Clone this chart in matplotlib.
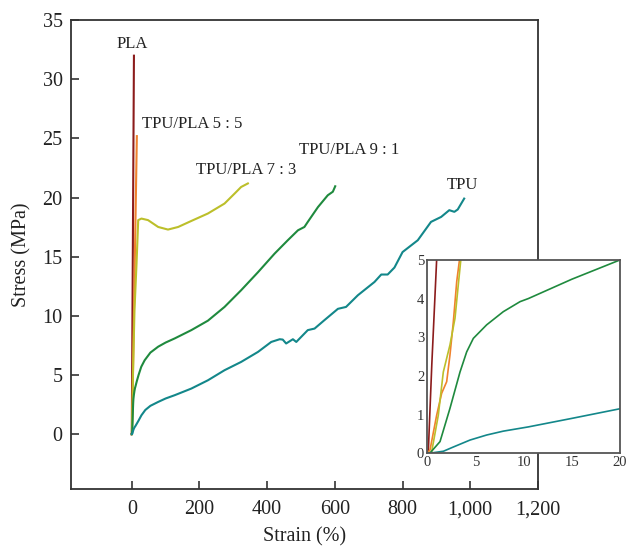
import numpy as np
import matplotlib.pyplot as plt

plt.rcParams['font.family'] = ['Liberation Serif', 'DejaVu Serif']

# strain (%) / stress (MPa)
pla_x = [0, 0.13, 0.5, 1.0, 3.0, 6.4]
pla_y = [0, 0.0, 2.3, 5.0, 15.0, 32.0]

tp55_x = [0, 0.31, 1.0, 1.52, 2.04, 2.38, 2.73, 3.08, 3.35, 6, 10, 15]
tp55_y = [0, 0.08, 0.98, 1.55, 1.85, 2.54, 3.4, 4.44, 4.97, 9.5, 16.5, 25.2]

tp73_x = [0, 0.48, 1.17, 1.69, 2.38, 2.9, 3.24, 3.49, 8, 14, 19, 28.5, 48, 78, 107, 137, 176, 225, 274, 304, 323, 343]
tp73_y = [0, 0.03, 0.98, 2.1, 2.8, 3.49, 4.35, 4.97, 10.5, 14.4, 18.1, 18.23, 18.1, 17.52, 17.3, 17.52, 18.03, 18.66, 19.5, 20.35, 20.9, 21.2]

tp91_x = [0, 0.3, 1.35, 2.38, 3.42, 4.11, 4.8, 6.18, 7.9, 9.64, 10.5, 15, 20, 28, 38, 55, 78, 100, 127, 176, 225, 274, 323, 373,
          422, 461, 491, 510, 520, 550, 579, 594, 601]
tp91_y = [0, 0.0, 0.3, 1.16, 2.1, 2.62, 2.97, 3.32, 3.66, 3.92, 4.0, 4.5, 5.0, 5.7, 6.25, 6.9, 7.4, 7.75, 8.1, 8.8, 9.6, 10.76, 12.17, 13.7,
          15.27, 16.4, 17.24, 17.52, 17.95, 19.2, 20.2, 20.5, 20.96]

tpu_x = [0, 0.3, 1.7, 2.73, 4.46, 6.18, 7.9, 10.5, 15, 20, 28.5, 40, 55, 78, 100, 127, 176, 225, 274, 323, 373, 412, 437, 446, 456,
         476, 486, 520, 540, 569, 609, 633, 668, 717, 737, 756, 776, 800, 845, 884, 914, 938, 953, 963, 982]
tpu_y = [0, 0.0, 0.05, 0.16, 0.34, 0.47, 0.57, 0.68, 0.9, 1.15, 1.6, 2.05, 2.4, 2.73, 3.02, 3.3, 3.86, 4.56, 5.41, 6.11, 6.96, 7.8, 8.03, 8.0, 7.67,
         8.03, 7.8, 8.8, 8.93, 9.64, 10.6, 10.76, 11.75, 12.87, 13.5, 13.5, 14.09, 15.4, 16.4, 17.95, 18.37, 18.94, 18.8, 19.0, 19.92]

series = [
    (pla_x, pla_y, '#8c1c1c'),
    (tp55_x, tp55_y, '#f0822d'),
    (tp73_x, tp73_y, '#bcbf2a'),
    (tp91_x, tp91_y, '#1f8a3e'),
    (tpu_x, tpu_y, '#13878a'),
]

labels = [
    ('PLA', 0, 33.0, 'center'),
    ('TPU/PLA 5 : 5', 29, 26.2, 'left'),
    ('TPU/PLA 7 : 3', 190, 22.3, 'left'),
    ('TPU/PLA 9 : 1', 494, 24.0, 'left'),
    ('TPU', 930, 21.05, 'left'),
]

fig = plt.figure(figsize=(6.27, 5.46), dpi=100)
ax = fig.add_axes([0.113, 0.104, 0.745, 0.859])

for x, y, c in series:
    ax.plot(x, y, color=c, lw=1.5)

for txt, x, y, ha in labels:
    ax.text(x, y, txt, ha=ha, va='center', fontsize=12, color='#222222')

ax.set_xlim(-180, 1200)
ax.set_ylim(-4.65, 35)
ax.set_xticks([0, 200, 400, 600, 800, 1000, 1200])
ax.set_xticklabels(['0', '200', '400', '600', '800', '1,000', '1,200'])
ax.set_yticks([0, 5, 10, 15, 20, 25, 30, 35])
ax.tick_params(direction='in', length=6, width=1.2, colors='#333333', labelsize=14.5, labelcolor='#222222')
ax.tick_params(axis='x', pad=8)
ax.tick_params(axis='y', pad=6)
for s in ax.spines.values():
    s.set_color('#333333')
    s.set_linewidth(1.3)
ax.set_xlabel('Strain (%)', fontsize=14.5, color='#222222', labelpad=6)
ax.set_ylabel('Stress (MPa)', fontsize=14.5, color='#222222', labelpad=8)

ins = fig.add_axes([0.681, 0.170, 0.308, 0.354])
for x, y, c in series:
    ins.plot(x, y, color=c, lw=1.2)
ins.set_xlim(0, 20)
ins.set_ylim(0, 5)
ins.set_xticks([0, 5, 10, 15, 20])
ins.set_yticks([0, 1, 2, 3, 4, 5])
ins.tick_params(length=0, labelsize=10.5, colors='#333333', pad=2)
for s in ins.spines.values():
    s.set_color('#555555')
    s.set_linewidth(1.3)

fig.savefig('out.png', dpi=100)
